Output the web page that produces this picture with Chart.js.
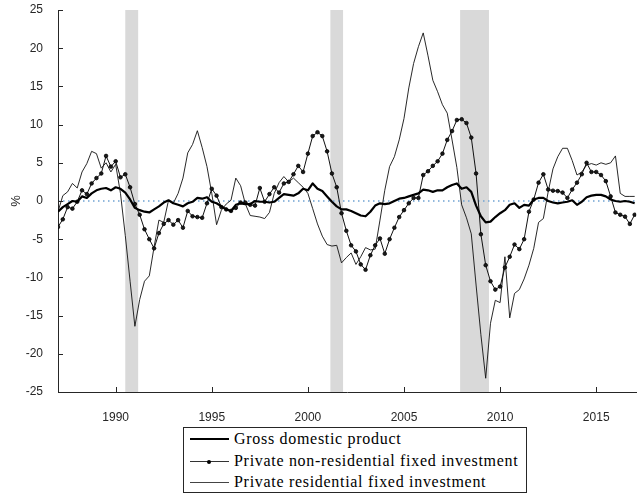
<!DOCTYPE html>
<html>
<head>
<meta charset="utf-8">
<script src="https://cdn.jsdelivr.net/npm/chart.js@4.4.0/dist/chart.umd.min.js"></script>
<style>
html, body { margin: 0; padding: 0; background: #fff; }
#wrap { position: relative; width: 641px; height: 494px; }
#legend {
    position: absolute; left: 183px; top: 427px; width: 342px; height: 64px;
    border: 1px solid #262626; background: #fff;
    font-family: "Liberation Serif", "Times New Roman", serif; font-size: 16px;
    letter-spacing: 0.7px; color: #000;
}
.row { position: absolute; left: 6px; height: 20px; line-height: 20px; white-space: nowrap; }
.sample { display: inline-block; position: relative; width: 39px; height: 20px; vertical-align: top; margin-right: 5px; }
.sample .bar { position: absolute; left: 0; right: 0; background: #000; }
.sample .dot { position: absolute; left: 17px; top: 8.5px; width: 4px; height: 4px; border-radius: 50%; background: #000; }
</style>
</head>
<body>
<div id="wrap">
    <canvas id="chart" width="641" height="494"></canvas>
    <div id="legend">
        <div class="row" style="top:1px"><span class="sample"><span class="bar" style="top:9px;height:2.2px"></span></span>Gross domestic product</div>
        <div class="row" style="top:23px"><span class="sample"><span class="bar" style="top:10px;height:1px;background:#333"></span><span class="dot"></span></span>Private non-residential fixed investment</div>
        <div class="row" style="top:44px"><span class="sample"><span class="bar" style="top:10px;height:1px;background:#444"></span></span>Private residential fixed investment</div>
    </div>
</div>
<script>
// quarterly data, first quarter 1987
var startYear = 1987

var gdp = [
    -1.4, -0.8, -0.4, 0.0, -0.1, 0.6, 0.4, 1.0, 1.4, 1.6, 1.7, 1.4, 1.8, 1.6, 1.1, 0.2,
    -0.9, -1.2, -1.4, -1.5, -1.1, -0.7, -0.2, 0.1, -0.3, -0.5, -0.7, -0.3, -0.1, 0.4, 0.3, 0.5,
    -0.1, -0.3, -0.7, -1.1, -1.3, -0.5, -0.3, -0.4, -0.4,
    0.0, -0.1, -0.1, -0.2, -0.1, 0.4, 0.9, 0.8, 0.7, 1.0, 1.6, 1.4, 2.3, 1.6, 1.3, 0.6,
    -0.1, -0.7, -1.1, -1.1, -1.3, -1.6, -1.9, -2.0, -1.4, -0.6, -0.3, -0.4, -0.3, 0.0, 0.3,
    0.4, 0.6, 0.8, 1.0, 1.5, 1.4, 1.2, 1.4, 1.4, 1.8, 2.1, 2.3, 1.6, 1.8, 1.2, -0.6,
    -2.0, -2.8, -2.7, -2.1, -1.6, -1.2, -0.5, -0.3, -0.9, -0.5, -0.6, 0.2, 0.4, 0.4, 0.0, -0.2,
    -0.3, -0.2, -0.1, 0.1, -0.5, -0.1, 0.5, 0.7, 0.8, 0.8, 0.6, 0.2, 0.0, -0.1, 0.0, -0.1, -0.3
]

var nonResidential = [
    -3.4, -2.4, -0.8, -1.0, -0.1, 1.4, 0.9, 2.3, 3.0, 3.6, 5.9, 4.5, 5.2, 3.1, 3.5, 1.8,
    -0.4, -1.8, -3.7, -5.0, -6.2, -4.2, -3.0, -2.5, -3.1, -2.5, -3.5, -1.3, -2.0, -2.1, -2.2, -0.3,
    1.6, 0.7, -0.8, -1.1, -1.3, -0.9, -0.2, -0.2, -0.5,
    -0.6, 1.7, -0.1, 0.9, 1.8, 1.1, 2.3, 2.5, 3.5, 4.6, 3.8, 6.2, 8.5, 9.0, 8.5, 6.5,
    3.6, 1.8, -1.6, -3.9, -5.8, -6.6, -8.3, -9.0, -7.1, -5.8, -4.9, -6.9, -5.0, -3.5, -2.1, -1.2,
    -0.3, 0.4, 0.4, 3.4, 3.9, 4.6, 5.2, 6.2, 8.0,
    9.15, 10.6, 10.7, 10.2, 8.3, 3.6, -4.35, -8.4, -10.5, -11.6, -11.2, -8.7, -7.3, -5.7, -6.3, -5.0,
    -1.4, 0.2, 2.4, 3.5, 1.5, 1.35, 1.3, 1.1, 0.4, 1.5, 2.4, 3.5, 5.0, 3.8, 3.8, 3.4,
    2.6, 0.6, -1.5, -1.8, -2.05, -3.0, -1.8
]

var residential = [
    -1.4, 0.7, 1.2, 2.3, 1.7, 3.8, 4.9, 6.5, 6.2, 4.3, 5.0, 3.8, 4.8, 1.0, -4.5, -10.5,
    -16.4, -12.9, -10.5, -9.8, -6.0, -2.5, -2.8, 0.1, -0.3, 1.0, 3.0, 6.3, 7.4, 9.2, 7.0, 4.5,
    1.0, -3.1, -1.2, -0.4, 0.1, 3.0, 2.0, -0.4, -1.9,
    -2.0, -2.1, -2.3, -1.5, 1.0, 2.4, 3.2, 2.5, 3.0, 2.4, 1.8, 1.0, -1.0, -3.0, -4.6, -5.7,
    -5.9, -5.8, -8.1, -7.4, -6.8, -8.3, -7.3, -6.1, -6.4, -6.3, -2.5, 1.4, 4.5,
    5.8, 8.0, 10.8, 14.8, 18.0, 20.2, 22.0, 19.0, 15.8, 14.3, 12.6, 11.5, 8.0, 4.4, -0.5, -2.2,
    -4.3, -11.0, -17.5, -23.2, -16.0, -13.0, -13.3, -7.3, -15.3, -12.1, -11.6, -10.2, -8.4, -6.2, -2.8, -2.3,
    1.2, 4.2, 5.8, 6.9, 6.9, 5.3, 3.4, 3.8, 4.7, 4.9, 4.7, 5.0, 4.8, 5.0, 5.9, 1.0,
    0.6, 0.6, 0.6
]

var recessions = [[1990.5, 1991.17], [2001.17, 2001.83], [2007.92, 2009.42]]
var xTicks = [1990, 1995, 2000, 2005, 2010, 2015]
var yTicks = [-25, -20, -15, -10, -5, 0, 5, 10, 15, 20, 25]

function toPoints(values) {
    return values.map(function (v, i) {
        return { x: startYear + i / 4, y: v }
    })
}

var axisColor = '#262626'

var backdrop = {
    id: 'backdrop',
    beforeDraw: function (chart) {
        var ctx = chart.ctx, area = chart.chartArea
        var x = chart.scales.x, y = chart.scales.y
        ctx.save()
        ctx.fillStyle = '#d9d9d9'
        for (r in recessions) {
            var x0 = x.getPixelForValue(recessions[r][0])
            var x1 = x.getPixelForValue(recessions[r][1])
            ctx.fillRect(x0, area.top, x1 - x0, area.bottom - area.top)
        }
        var y0 = y.getPixelForValue(0)
        ctx.strokeStyle = '#6fa3d2'
        ctx.lineWidth = 1.5
        ctx.setLineDash([1.5, 3.5])
        ctx.beginPath()
        ctx.moveTo(area.left, y0)
        ctx.lineTo(area.right, y0)
        ctx.stroke()
        ctx.restore()
    }
}

// MATLAB style ticks pointing into the plot
var innerTicks = {
    id: 'innerTicks',
    afterDraw: function (chart) {
        var ctx = chart.ctx, area = chart.chartArea
        var x = chart.scales.x, y = chart.scales.y
        ctx.save()
        ctx.strokeStyle = axisColor
        ctx.lineWidth = 1
        ctx.beginPath()
        xTicks.forEach(function (v) {
            var px = Math.round(x.getPixelForValue(v)) + 0.5
            ctx.moveTo(px, area.bottom)
            ctx.lineTo(px, area.bottom - 5)
        })
        yTicks.forEach(function (v) {
            var py = Math.round(y.getPixelForValue(v)) + 0.5
            ctx.moveTo(area.left, py)
            ctx.lineTo(area.left + 5, py)
        })
        ctx.stroke()
        ctx.restore()
    }
}

var tickFont = { family: 'Liberation Sans', size: 12 }

var ctx = document.getElementById('chart').getContext('2d')
var chart = new Chart(ctx, {
    type: 'line',
    data: {
        datasets: [{
            label: 'Gross domestic product',
            data: toPoints(gdp),
            borderColor: '#000',
            borderWidth: 2.2,
            pointRadius: 0
        }, {
            label: 'Private non-residential fixed investment',
            data: toPoints(nonResidential),
            borderColor: '#111',
            borderWidth: 1,
            pointRadius: 1.8,
            pointBackgroundColor: '#1a1a1a',
            pointBorderColor: '#000',
            pointBorderWidth: 0.8
        }, {
            label: 'Private residential fixed investment',
            data: toPoints(residential),
            borderColor: '#111',
            borderWidth: 0.9,
            pointRadius: 0
        }]
    },
    options: {
        responsive: false,
        animation: false,
        layout: { padding: { top: 10, right: 0, bottom: 0, left: 0 } },
        plugins: { legend: { display: false }, tooltip: { enabled: false } },
        elements: { line: { tension: 0, borderJoinStyle: 'round' } },
        scales: {
            x: {
                type: 'linear',
                min: 1987,
                max: 2017.08,
                afterBuildTicks: function (s) { s.ticks = xTicks.map(function (v) { return { value: v } }) },
                afterFit: function (s) { s.height = 102; s.paddingLeft = 0; s.paddingRight = 0 },
                grid: { display: false },
                border: { display: true, color: axisColor, width: 1 },
                ticks: {
                    font: tickFont, color: axisColor, padding: 10, maxRotation: 0, autoSkip: false,
                    callback: function (v) { return String(v) }
                }
            },
            y: {
                min: -25,
                max: 25,
                afterBuildTicks: function (s) { s.ticks = yTicks.map(function (v) { return { value: v } }) },
                afterFit: function (s) { s.width = 58; s.paddingTop = 0; s.paddingBottom = 0 },
                grid: { display: false },
                border: { display: true, color: axisColor, width: 1 },
                ticks: {
                    font: tickFont, color: axisColor, padding: 7,
                    callback: function (v) { return String(v) }
                },
                title: {
                    display: true, text: '%', color: axisColor,
                    font: { family: 'Liberation Sans', size: 13 },
                    padding: { top: 9, bottom: 0 }
                }
            }
        }
    },
    plugins: [backdrop, innerTicks]
})
</script>
</body>
</html>
